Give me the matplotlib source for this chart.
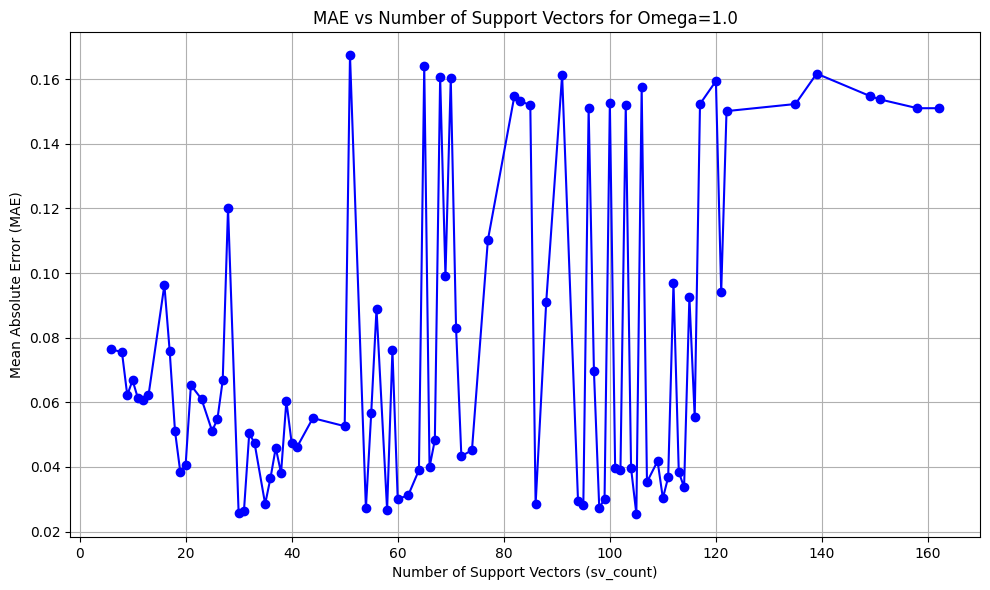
import matplotlib
matplotlib.use('Agg')
import matplotlib.pyplot as plt

# Support vector counts and the MAE at each
sv_count = [6, 8, 9, 10, 11, 12, 13, 16, 17, 18, 19, 20, 21, 23, 25, 26, 27, 28,
            30, 31, 32, 33, 35, 36, 37, 38, 39, 40, 41, 44, 50, 51, 54, 55, 56,
            58, 59, 60, 62, 64, 65, 66, 67, 68, 69, 70, 71, 72, 74, 77, 82, 83,
            85, 86, 88, 91, 94, 95, 96, 97, 98, 99, 100, 101, 102, 103, 104, 105,
            106, 107, 109, 110, 111, 112, 113, 114, 115, 116, 117, 120, 121, 122,
            135, 139, 149, 151, 158, 162]
mae = [0.0764, 0.0755, 0.0622, 0.0668, 0.0613, 0.0607, 0.0621, 0.0963, 0.0758,
       0.0511, 0.0384, 0.0405, 0.0653, 0.0610, 0.0511, 0.0548, 0.0668, 0.1201,
       0.0257, 0.0263, 0.0504, 0.0474, 0.0285, 0.0365, 0.0459, 0.0381, 0.0604,
       0.0474, 0.0461, 0.0551, 0.0526, 0.1674, 0.0272, 0.0566, 0.0889, 0.0266,
       0.0761, 0.0300, 0.0313, 0.0390, 0.1640, 0.0399, 0.0483, 0.1606, 0.0990,
       0.1603, 0.0830, 0.0433, 0.0452, 0.1102, 0.1548, 0.1532, 0.1520, 0.0284,
       0.0910, 0.1613, 0.0294, 0.0282, 0.1510, 0.0696, 0.0274, 0.0300, 0.1526,
       0.0396, 0.0390, 0.1520, 0.0396, 0.0254, 0.1575, 0.0353, 0.0418, 0.0303,
       0.0368, 0.0969, 0.0384, 0.0337, 0.0925, 0.0554, 0.1523, 0.1594, 0.0941,
       0.1501, 0.1523, 0.1617, 0.1548, 0.1537, 0.1510, 0.1510]

plt.figure(figsize=(9.9, 5.9), dpi=100)
plt.plot(sv_count, mae, marker='o', linestyle='-', color='b')
plt.title('MAE vs Number of Support Vectors for Omega=1.0')
plt.xlabel('Number of Support Vectors (sv_count)')
plt.ylabel('Mean Absolute Error (MAE)')
plt.grid(True)
plt.subplots_adjust(left=0.0707, right=0.9899, top=0.9453, bottom=0.0898)
plt.savefig('out.png')
plt.close()
